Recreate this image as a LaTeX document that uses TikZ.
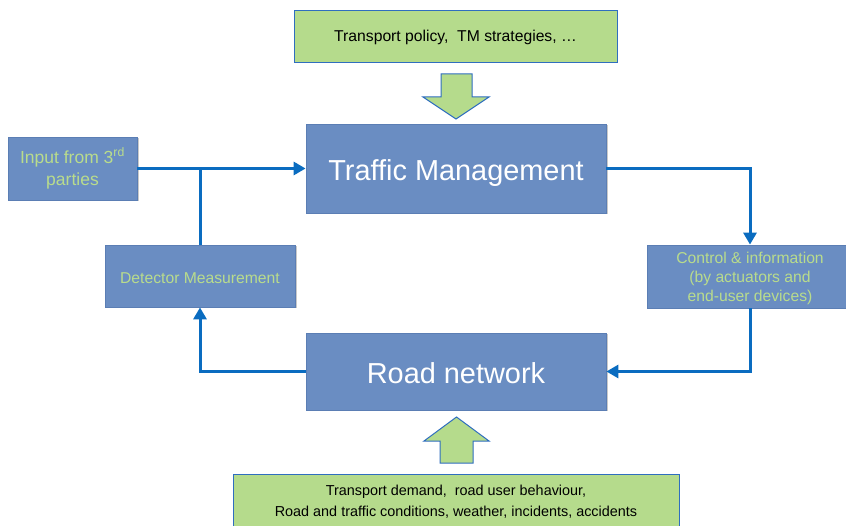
\documentclass[tikz,border=0pt]{standalone}
\usepackage{fontspec}
\setmainfont{Liberation Sans}
\usetikzlibrary{arrows.meta,shadows}
\definecolor{boxfill}{HTML}{6A8DC2}
\definecolor{boxline}{HTML}{5B7EB4}
\definecolor{txtgreen}{HTML}{B9DC8C}
\definecolor{greenfill}{HTML}{B5DB8C}
\definecolor{greenline}{HTML}{2F6EBF}
\definecolor{conn}{HTML}{0A6CC0}
\tikzset{
  bluebox/.style={draw=boxline, line width=0.8pt, fill=boxfill, text=txtgreen,
    drop shadow={shadow xshift=1.5pt, shadow yshift=-1.5pt, opacity=0.35, fill=black!60},
    inner sep=0pt, align=center, font=\fontsize{15.7}{19}\selectfont},
  bigbox/.style={bluebox, text=white, font=\fontsize{28.9}{34}\selectfont},
  greenbox/.style={draw=greenline, line width=1pt, fill=greenfill, text=black,
    inner sep=0pt, align=center, font=\fontsize{15.7}{21}\selectfont},
  blockarrow/.style={draw=greenline, line width=1pt, fill=greenfill},
  connector/.style={draw=conn, line width=3pt, -{Triangle[length=12pt,width=13pt]}},
  plainconn/.style={draw=conn, line width=3pt}
}
\begin{document}
\begin{tikzpicture}[x=1pt,y=-1pt]
\useasboundingbox (0,0) rectangle (846,526);
\fill[white] (0,0) rectangle (846,526);

\node[greenbox, minimum width=323pt, minimum height=52pt] (policy) at (455.5,37) {Transport policy,\ \ TM strategies, \dots};
\node[bigbox, minimum width=300pt, minimum height=89pt] (tm) at (456,168.5) {\raisebox{-4.5pt}[\height][\depth]{Traffic Management}};
\node[bluebox, minimum width=129pt, minimum height=63pt, font=\fontsize{17.5}{22}\selectfont] (input) at (72.5,168.5) {Input from 3\textsuperscript{rd}\\parties};
\node[bluebox, minimum width=190pt, minimum height=62pt] (det) at (200,276) {\raisebox{-2pt}[\height][\depth]{Detector Measurement}};
\node[bluebox, minimum width=206pt, minimum height=63pt] (ctrl) at (750,276.5) {\raisebox{-2.5pt}[\height][\depth]{\begin{tabular}{@{}c@{}}Control \& information\\(by actuators and\\end-user devices)\end{tabular}}};
\node[bigbox, minimum width=300pt, minimum height=77pt] (road) at (456,371.5) {\raisebox{-2pt}[\height][\depth]{Road network}};
\node[greenbox, minimum width=446pt, minimum height=56pt, font=\fontsize{14.4}{21}\selectfont] (demand) at (456,502) {Transport demand,\ \ road user behaviour,\\Road and traffic conditions, weather, incidents, accidents};

% block arrows
\draw[blockarrow] (441,74) -- (472,74) -- (472,97) -- (489,97) -- (456,119) -- (423,97) -- (441,97) -- cycle;
\draw[blockarrow] (440,463) -- (473,463) -- (473,441) -- (489,441) -- (456.5,417) -- (424,441) -- (440,441) -- cycle;

% connectors
\coordinate (join) at (det.north |- tm.west);
\draw[plainconn] (det.north) -- (join);
\draw[connector] (input.east) -- (tm.west);
\draw[connector] (tm.east) -| (ctrl.north);
\draw[connector] (ctrl.south) |- (road.east);
\draw[connector] (road.west) -| (det.south);
\end{tikzpicture}
\end{document}
